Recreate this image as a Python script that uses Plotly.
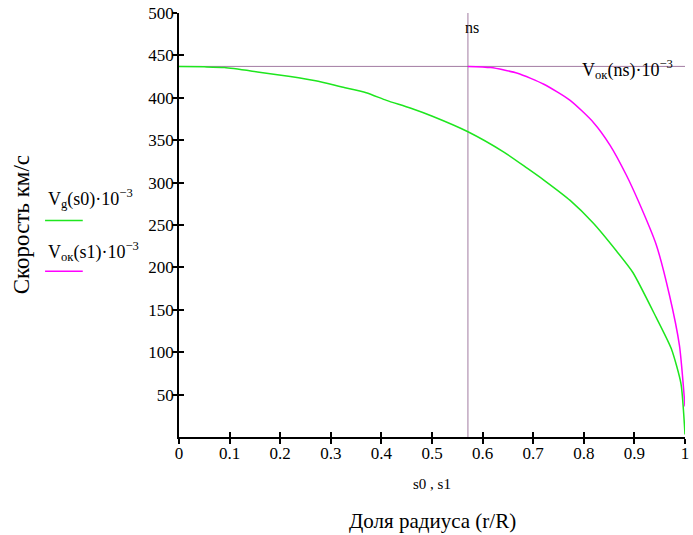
import plotly.graph_objects as go

# ---- data ----
s0 = [0.0, 0.05, 0.09, 0.155, 0.22, 0.27, 0.32, 0.37, 0.41, 0.457, 0.502, 0.571, 0.642,
      0.688, 0.721, 0.773, 0.819, 0.865, 0.897, 0.943, 0.973, 0.992, 1.0]
Vg = [437, 436.5, 435.6, 430.5, 425, 420, 413, 406, 397, 388, 378, 360, 336,
      317, 303, 279, 252, 219, 194, 141, 104, 63, 3]

s1 = [0.571, 0.616, 0.669, 0.721, 0.773, 0.819, 0.852, 0.884, 0.908, 0.943,
      0.969, 0.989, 1.0]
Vok = [437, 435.6, 429, 416, 397, 371, 344, 309, 278, 227,
       168, 108, 36]

ns = 0.571          # marker position on x
Vok_ns = 437        # marker value on y

x_ticks = [0, 0.1, 0.2, 0.3, 0.4, 0.5, 0.6, 0.7, 0.8, 0.9, 1]
x_labels = ["0", "0.1", "0.2", "0.3", "0.4", "0.5", "0.6", "0.7", "0.8", "0.9", "1"]
y_ticks = [50, 100, 150, 200, 250, 300, 350, 400, 450, 500]
y_labels = [str(v) for v in y_ticks]

FONT = "Liberation Serif"
GREEN = "#1ee61e"
MAGENTA = "#ff00ff"
MARK = "#8a5a8a"


def f(size):
    return dict(family=FONT, size=size, color="black")


fig = go.Figure()
fig.add_trace(go.Scatter(x=s0, y=Vg, mode="lines",
                         line=dict(color=GREEN, width=1.5, shape="spline", smoothing=0.6),
                         showlegend=False, xaxis="x2", yaxis="y2"))
fig.add_trace(go.Scatter(x=s1, y=Vok, mode="lines",
                         line=dict(color=MAGENTA, width=1.5, shape="spline", smoothing=0.6),
                         showlegend=False))

fig.add_vline(x=ns, line=dict(color=MARK, width=0.8), layer="below")
fig.add_hline(y=Vok_ns, line=dict(color=MARK, width=0.8), layer="below")

common_x = dict(range=[0, 1], showgrid=False, zeroline=False, showline=True,
                linecolor="black", linewidth=1.5)
common_y = dict(range=[0, 500], showgrid=False, zeroline=False, showline=True,
                linecolor="black", linewidth=1.5)

fig.update_layout(
    width=693, height=535,
    margin=dict(l=179, r=4, t=10, b=98),
    paper_bgcolor="white", plot_bgcolor="white",
    font=f(16),
    xaxis=dict(**common_x, ticks="inside", ticklen=5, tickwidth=1.5, tickcolor="black",
               tickvals=x_ticks, ticktext=x_labels, tickfont=f(17),
               ticklabeloverflow="allow"),
    yaxis=dict(**common_y, ticks="inside", ticklen=5, tickwidth=1.5, tickcolor="black",
               tickvals=y_ticks, ticktext=y_labels, tickfont=f(17)),
    xaxis2=dict(**common_x, overlaying="x", anchor="y2", ticks="outside", ticklen=5,
                tickwidth=1.5, tickcolor="black", tickvals=x_ticks, showticklabels=False),
    yaxis2=dict(**common_y, overlaying="y", anchor="x2", ticks="outside", ticklen=5,
                tickwidth=1.5, tickcolor="black", tickvals=y_ticks, showticklabels=False),
    showlegend=False,
)


def px2x(px):
    return (px - 179) / 510.0


def py2y(py):
    return (437 - py) / 427.0


ann = [
    dict(text="V<sub>g</sub>(s0)·10<sup>−3</sup>", x=px2x(45), y=py2y(197),
         xanchor="left", yanchor="middle", font=f(18)),
    dict(text="V<sub>ок</sub>(s1)·10<sup>−3</sup>", x=px2x(45), y=py2y(250),
         xanchor="left", yanchor="middle", font=f(18)),
    dict(text="s0 , s1", x=0.5, y=py2y(484), xanchor="center", yanchor="middle",
         font=f(15)),
    dict(text="Доля радиуса (r/R)", x=0.5, y=py2y(522), xanchor="center", yanchor="middle",
         font=f(21)),
    dict(text="Скорость км/с", x=px2x(20), y=0.5, xanchor="center", yanchor="middle",
         textangle=-90, font=f(23)),
]
for a in ann:
    fig.add_annotation(xref="paper", yref="paper", showarrow=False, **a)

fig.add_annotation(text="ns", x=ns, y=py2y(25), xref="x", yref="paper", xanchor="center",
                   yanchor="middle", xshift=4, showarrow=False, font=f(16))
fig.add_annotation(text="V<sub>ок</sub>(ns)·10<sup>−3</sup>", x=px2x(583), y=Vok_ns,
                   xref="x", yref="y", xanchor="left", yanchor="middle", yshift=-3,
                   showarrow=False, font=f(18))

fig.add_shape(type="line", xref="paper", yref="paper", x0=px2x(44), x1=px2x(82),
              y0=py2y(219), y1=py2y(219), line=dict(color=GREEN, width=1.5))
fig.add_shape(type="line", xref="paper", yref="paper", x0=px2x(44), x1=px2x(82),
              y0=py2y(270), y1=py2y(270), line=dict(color=MAGENTA, width=1.5))

fig.write_html("out.html")
